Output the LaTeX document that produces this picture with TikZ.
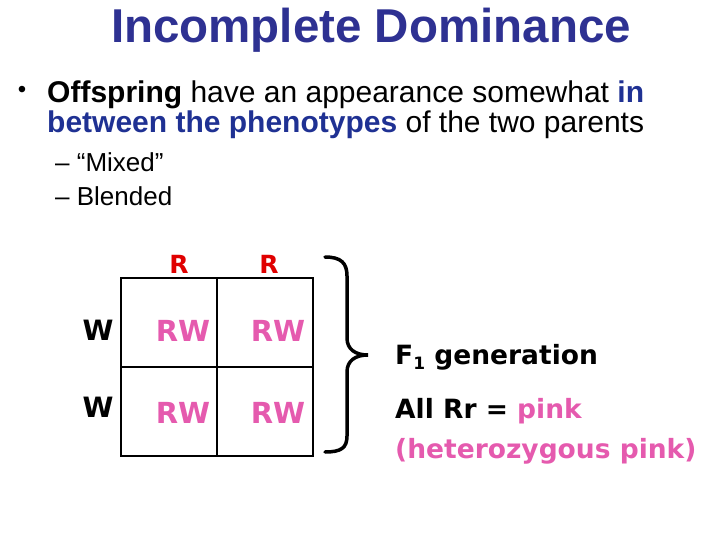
\documentclass[tikz,border=0pt]{standalone}
\usepackage{fontspec}
\setmainfont{Liberation Sans}
\newfontfamily\comicfont{DejaVu Sans}
\usetikzlibrary{positioning}
\definecolor{titleblue}{HTML}{2E3192}
\definecolor{keyblue}{HTML}{1F3193}
\definecolor{allelered}{HTML}{E00000}
\definecolor{hetpink}{HTML}{E55AAE}
\tikzset{
  title/.style = {inner sep=0pt, text=titleblue, font=\fontsize{47.5}{47.5}\selectfont\bfseries},
  body/.style = {inner sep=0pt, anchor=base west, font=\fontsize{30}{30}\selectfont},
  subpt/.style = {inner sep=0pt, anchor=base west, font=\fontsize{26}{26}\selectfont},
  cell/.style = {rectangle, draw=black, line width=2pt, minimum width=96pt, minimum height=89pt, inner sep=0pt, outer sep=0pt},
  allele/.style = {inner sep=0pt, anchor=base, font=\comicfont\fontsize{25}{25}\selectfont\bfseries},
  offs/.style = {inner sep=0pt, anchor=base, text=hetpink, font=\comicfont\fontsize{29}{29}\selectfont\bfseries},
  note/.style = {inner sep=0pt, anchor=base west, font=\comicfont\fontsize{26.5}{26.5}\selectfont\bfseries},
  bracket/.style = {line width=3.5pt, line cap=round}
}
\begin{document}
\begin{tikzpicture}[x=1pt, y=-1pt]
\useasboundingbox (0,0) rectangle (720,540);

% Heading and bullet text
\node[title, anchor=base] (head) at (371,43) {Incomplete Dominance};
\node[inner sep=0pt, font=\fontsize{24}{24}\selectfont] (dot) at (22,92) {\textbullet};
\node[body] (line1) at (47,103) {\textbf{Offspring} have an appearance somewhat \textcolor{keyblue}{\textbf{in}}};
\node[body, at={([yshift=-30pt]line1.base west)}] (line2) {\textcolor{keyblue}{\textbf{between the phenotypes}} of the two parents};
\node[subpt] (mixed) at (55,172) {-- ``Mixed''};
\node[subpt, at={([yshift=-34pt]mixed.base west)}] (blend) {-- Blended};

% Punnett square
\node[cell] (c11) at (169,322) {};
\node[cell, right=0pt of c11] (c12) {};
\node[cell, below=0pt of c11] (c21) {};
\node[cell, right=0pt of c21] (c22) {};

\node[allele, text=allelered] (r1) at (179,273) {R};
\node[allele, text=allelered] (r2) at (269,273) {R};
\node[allele, font=\comicfont\fontsize{28}{28}\selectfont\bfseries] (w1) at (98,340) {W};
\node[allele, font=\comicfont\fontsize{28}{28}\selectfont\bfseries] (w2) at (98,417) {W};

\node[offs] (rw11) at (183,341) {RW};
\node[offs] (rw12) at (278,341) {RW};
\node[offs] (rw21) at (183,423) {RW};
\node[offs] (rw22) at (278,423) {RW};

% Brace round the square
\draw[bracket] (325,257) .. controls (341,257) and (347,263) .. (347,276) -- (347,338)
  .. controls (347,349) and (355,355) .. (368,355)
  .. controls (355,355) and (347,361) .. (347,372) -- (347,436)
  .. controls (347,448) and (341,452) .. (325,452);

% Result text
\node[note] (gen) at (395,364) {F{\fontsize{17}{17}\selectfont\raisebox{-5pt}{1}} generation};
\node[note] (all) at (395,418) {All Rr = \textcolor{hetpink}{pink}};
\node[note, text=hetpink, at={([yshift=-40pt]all.base west)}] (het) {(heterozygous pink)};

\end{tikzpicture}
\end{document}
